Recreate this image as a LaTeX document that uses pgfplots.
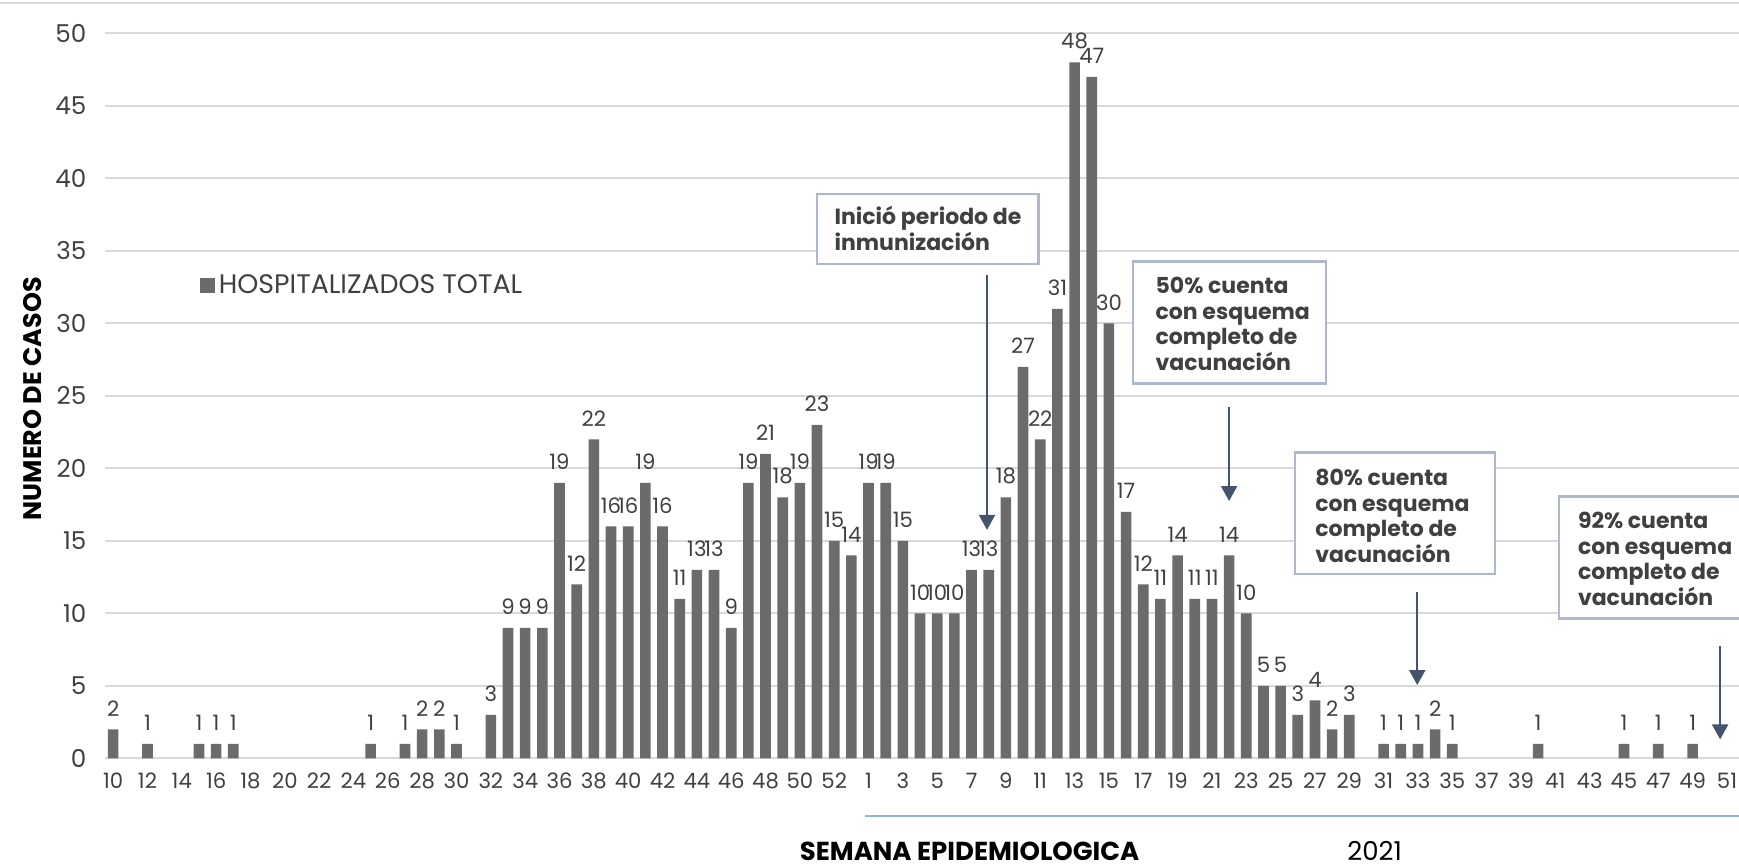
\documentclass[border=0pt]{standalone}
\usepackage{fontspec}
\setmainfont{Poppins}
\usepackage{pgfplots}
\pgfplotsset{compat=1.18}
\usetikzlibrary{arrows.meta}
\definecolor{txt}{HTML}{404040}
\definecolor{gridc}{HTML}{D9D9D9}
\definecolor{boxc}{HTML}{ADB9CA}
\definecolor{arrc}{HTML}{44546A}
\definecolor{bluel}{HTML}{8DB4E2}
\definecolor{barc}{HTML}{6B6B6B}
\begin{document}
\begin{tikzpicture}
\begin{axis}[
  scale only axis, width=816.8pt, height=362.5pt,
  xmin=-0.45, xmax=94.7, ymin=0, ymax=50,
  ytick={0,5,...,50}, xtick={0,2,...,94},
  xticklabels={10,12,14,16,18,20,22,24,26,28,30,32,34,36,38,40,42,44,46,48,50,52,1,3,5,7,9,11,13,15,17,19,21,23,25,27,29,31,33,35,37,39,41,43,45,47,49,51},
  ymajorgrids, grid style={gridc, line width=1pt},
  axis line style={draw=none}, major tick length=0pt,
  /pgf/number format/assume math mode=true,
  yticklabel style={font=\fontsize{12.3}{12.3}\selectfont, text=txt, xshift=-6pt},
  xticklabel style={font=\fontsize{10.6}{10.6}\selectfont, text=txt, yshift=-4pt},
  ybar, bar width=0.62,
  nodes near coords,
  every node near coord/.append style={font=\fontsize{10.6}{10.6}\selectfont, text=txt, yshift=3pt},
  clip=false,
  legend style={at={(0.0577,0.652)}, anchor=west, draw=none, fill=none,
    inner sep=0pt, font=\fontsize{13.4}{13.4}\selectfont, text=txt},
  legend image code/.code={\fill[barc] (0pt,-3.7pt) rectangle (7.4pt,3.7pt);},
]
% semanas 10-53 de 2020 en 0..43, semanas 1-51 de 2021 en 44..94
\addplot[draw=none, fill=barc] coordinates {
  (0,2) (2,1) (5,1) (6,1) (7,1) (15,1) (17,1) (18,2) (19,2) (20,1)
  (22,3) (23,9) (24,9) (25,9) (26,19) (27,12) (28,22) (29,16) (30,16) (31,19)
  (32,16) (33,11) (34,13) (35,13) (36,9) (37,19) (38,21) (39,18) (40,19) (41,23)
  (42,15) (43,14)
  (44,19) (45,19) (46,15) (47,10) (48,10) (49,10) (50,13) (51,13) (52,18) (53,27)
  (54,22) (55,31) (56,48) (57,47) (58,30) (59,17) (60,12) (61,11) (62,14) (63,11)
  (64,11) (65,14) (66,10) (67,5) (68,5) (69,3) (70,4) (71,2) (72,3)
  (74,1) (75,1) (76,1) (77,2) (78,1) (83,1) (88,1) (90,1) (92,1)
};
\addlegendentry{HOSPITALIZADOS TOTAL}

% cuadros de texto
\draw[boxc, line width=1.2pt, fill=white] (axis cs:41.0,38.93) rectangle (axis cs:53.9,34.1);
\node[anchor=north west, inner sep=0pt, align=left, text=txt,
  font=\fontsize{11}{12.75}\selectfont\bfseries] at (axis cs:42.0,38.1) {Inició periodo de\\inmunización};
\draw[boxc, line width=1.2pt, fill=white] (axis cs:59.4,34.27) rectangle (axis cs:70.65,25.86);
\node[anchor=north west, inner sep=0pt, align=left, text=txt,
  font=\fontsize{11}{12.75}\selectfont\bfseries] at (axis cs:60.7,33.2) {50\% cuenta\\con esquema\\completo de\\vacunación};
\draw[boxc, line width=1.2pt, fill=white] (axis cs:68.85,21.1) rectangle (axis cs:80.5,12.7);
\node[anchor=north west, inner sep=0pt, align=left, text=txt,
  font=\fontsize{11}{12.75}\selectfont\bfseries] at (axis cs:70.0,19.97) {80\% cuenta\\con esquema\\completo de\\vacunación};
\draw[boxc, line width=1.2pt, fill=white] (axis cs:84.2,18.06) rectangle (axis cs:97,9.64);
\node[anchor=north west, inner sep=0pt, align=left, text=txt,
  font=\fontsize{11}{12.75}\selectfont\bfseries] at (axis cs:85.3,16.98) {92\% cuenta\\con esquema\\completo de\\vacunación};

% flechas
\draw[arrc, line width=1pt, -{Triangle[width=8pt,length=7.5pt]}] (axis cs:50.9,33.33) -- (axis cs:50.9,15.75);
\draw[arrc, line width=1pt, -{Triangle[width=8pt,length=7.5pt]}] (axis cs:65.0,24.24) -- (axis cs:65.0,17.74);
\draw[arrc, line width=1pt, -{Triangle[width=8pt,length=7.5pt]}] (axis cs:75.96,11.47) -- (axis cs:75.96,5.05);
\draw[arrc, line width=1pt, -{Triangle[width=8pt,length=7.5pt]}] (axis cs:93.6,7.72) -- (axis cs:93.6,1.3);

% titulos
\node[rotate=90, font=\fontsize{12.7}{12.7}\selectfont\bfseries, yshift=36.2pt] at (rel axis cs:0,0.496) {NUMERO DE CASOS};
\node[font=\fontsize{13}{13}\selectfont\bfseries, yshift=-46.6pt] at (rel axis cs:0.529,0) {SEMANA EPIDEMIOLOGICA};
\node[font=\fontsize{13}{13}\selectfont, yshift=-46.2pt] at (rel axis cs:0.777,0) {2021};
\draw[bluel, line width=1pt] ([yshift=-28.7pt]rel axis cs:0.465,0) -- ([yshift=-28.7pt]rel axis cs:1.02,0);
\draw[gridc, line width=1pt] ([shift={(-60pt,15pt)}]rel axis cs:0,1) -- ([shift={(10pt,15pt)}]rel axis cs:1,1);

\coordinate (BL) at (rel axis cs:0,0);
\coordinate (TR) at (rel axis cs:1,1);
\end{axis}
\pgfresetboundingbox
\path[use as bounding box] ([shift={(-52.7pt,-54.7pt)}]BL) rectangle ([yshift=16.65pt]TR);
\end{tikzpicture}
\end{document}
